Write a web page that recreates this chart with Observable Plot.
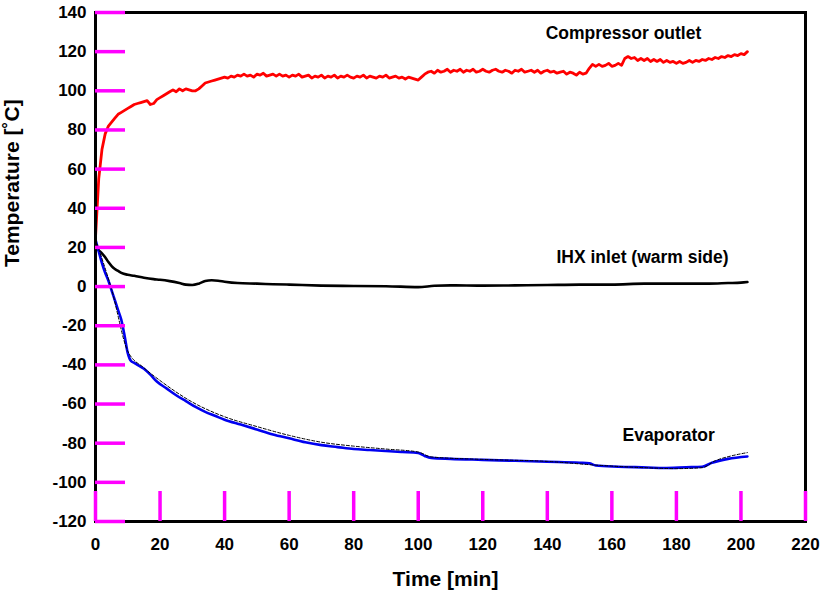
<!DOCTYPE html>
<html>
<head>
<meta charset="utf-8">
<script src="https://cdn.jsdelivr.net/npm/d3@7"></script>
<script src="https://cdn.jsdelivr.net/npm/@observablehq/plot@0.6"></script>
<style>
  html, body { margin: 0; padding: 0; background: #fff; }
  #chart svg { display: block; }
</style>
</head>
<body>
<div id="chart"></div>
<script>
// ---- data ----
const compTime = d3.range(0, 203); // minutes 0..202
const compTemp = [
  25, 55, 70, 78, 82, 84, 86, 88, 89, 90,
  91, 92, 93, 93.5, 94, 94.5, 95, 93, 93.5, 95.5,
  96.5, 97.5, 98.5, 99.5, 100.5, 99.5, 101, 100, 101, 100.5,
  100, 100, 101, 102.5, 104, 104.5, 105, 105.5, 106, 106.5,
  107, 106.5, 107.5, 107, 108, 107.5, 108.5, 107.5, 108, 107,
  108.5, 108, 109, 107.5, 108, 108.5, 107.5, 108.5, 107.5, 108,
  107, 108, 107.5, 108.5, 107, 107.5, 108, 106.5, 107.5, 107,
  108, 106.5, 107.5, 107, 108, 106.5, 107.5, 107, 108, 107,
  106.5, 107.5, 107, 108, 106.5, 107.5, 107, 106.5, 107.5, 107,
  108, 106.5, 107, 107.5, 106.5, 107, 106, 107, 106.5, 106,
  105.5, 107, 108.5, 109.5, 110, 109, 110.5, 109.5, 110, 111,
  109.5, 110.5, 110, 111, 109.5, 110.5, 110, 111, 109.5, 110,
  111, 110, 109.5, 110.5, 111, 110, 109.5, 110.5, 110, 109,
  110.5, 110, 111, 109.5, 110, 110.5, 109.5, 110.5, 109, 110,
  110.5, 109.5, 110, 109, 109.5, 110, 108.5, 109.5, 109, 108,
  109.5, 108.5, 109, 111.5, 113.5, 112.5, 113.5, 112.5, 113, 114,
  112.5, 113, 114, 113, 116.5, 117.5, 116.5, 117, 115.5, 116.5,
  115.5, 116.5, 115, 116, 115, 116, 114.5, 115.5, 114.5, 115,
  114, 115, 114, 114.5, 115.5, 114.5, 115.5, 115, 116, 115.5,
  116.5, 116, 117, 116.5, 117.5, 117, 118, 117.5, 118.5, 118,
  119, 118.5, 120
];

const ihxTime = [0, 1, 2, 3, 4, 5, 6, 7, 8, 10, 12, 15, 18, 20, 23, 26, 28, 30, 32, 34, 36, 38, 40, 44, 50, 55, 60, 70, 80, 90, 100, 105, 110, 120, 130, 140, 150, 160, 170, 180, 190, 196, 200, 202];
const ihxTemp = [20, 18.5, 17, 15, 12.5, 10.5, 9, 8, 7, 6, 5.5, 4.5, 3.8, 3.5, 2.8, 1.8, 1, 0.8, 1.5, 2.8, 3.2, 3, 2.5, 1.8, 1.5, 1.2, 1, 0.5, 0.3, 0.2, -0.3, 0.4, 0.6, 0.5, 0.6, 0.8, 1, 1, 1.5, 1.5, 1.5, 1.8, 2, 2.3];

const evapTime = [0, 1, 2, 3, 4, 5, 6, 7, 8, 9, 10, 11, 12, 13, 15, 17, 19, 22, 25, 28, 31, 34, 37, 40, 45, 50, 55, 60, 65, 70, 75, 80, 85, 90, 95, 100, 102, 104, 110, 120, 130, 140, 150, 153, 155, 162, 171, 176, 183, 188, 191, 196, 202];
const evapTemp = [24, 18, 12, 7, 3, -2, -7, -12, -17, -25, -34, -38, -39, -40, -42, -45, -48.5, -52, -55.5, -58.5, -61.5, -64, -66, -68, -70.5, -73, -75.5, -77.5, -79.5, -81, -82, -83, -83.5, -84, -84.5, -85, -86.5, -87.5, -88, -88.5, -89, -89.5, -90, -90.3, -91.4, -92, -92.4, -92.7, -92.3, -92, -90, -88, -86.8];

const evap2Time = [0, 5, 10, 15, 20, 30, 40, 50, 60, 70, 80, 90, 100, 104, 120, 140, 155, 170, 180, 188, 192, 197, 202];
const evap2Temp = [24, -1.5, -33, -41.5, -48, -59, -66.5, -71.5, -76, -79.5, -81.5, -83, -84.5, -87, -88.3, -89.3, -91.2, -92.5, -93, -92.5, -89, -86.5, -84.8];

const labelNames = ["Compressor outlet", "IHX inlet (warm side)", "Evaporator"];
const labelX = [163.6, 169.5, 177.6];
const labelY = [129.3, 14.9, -76];

const xTicks = d3.range(0, 221, 20);
const yTicks = d3.range(-120, 141, 20);

const xTitle = "Time [min]";
const yTitle = "Temperature [\u02DAC]";

// ---- tables ----
const comp = compTime.map((t, i) => ({t, v: compTemp[i]}));
const ihx = ihxTime.map((t, i) => ({t, v: ihxTemp[i]}));
const evap = evapTime.map((t, i) => ({t, v: evapTemp[i]}));
const evap2 = evap2Time.map((t, i) => ({t, v: evap2Temp[i]}));
const labels = labelNames.map((name, i) => ({name, x: labelX[i], y: labelY[i]}));

const W = 832, H = 605;
const mL = 95, mR = 27, mT = 12, mB = 84;
const xDom = [0, 220], yDom = [-120, 140];
const tickLen = 30;

const chart = Plot.plot({
  width: W,
  height: H,
  marginLeft: mL,
  marginRight: mR,
  marginTop: mT,
  marginBottom: mB,
  style: {fontFamily: "Arial, 'Liberation Sans', sans-serif", background: "#fff", color: "#000"},
  x: {domain: xDom, ticks: xTicks},
  y: {domain: yDom, ticks: yTicks},
  marks: [
    Plot.line(comp, {x: "t", y: "v", stroke: "#ff0000", strokeWidth: 2.8, curve: "linear"}),
    Plot.line(ihx, {x: "t", y: "v", stroke: "#000", strokeWidth: 2.6, curve: "monotone-x"}),
    Plot.line(evap, {x: "t", y: "v", stroke: "#0000f0", strokeWidth: 2.6, curve: "monotone-x"}),
    Plot.line(evap2, {x: "t", y: "v", stroke: "#000", strokeWidth: 1, strokeDasharray: "3,2", curve: "monotone-x"}),
    Plot.axisY(yTicks, {anchor: "left", tickSize: 0, tickPadding: 9, fontSize: 17, fontWeight: "bold", label: null, tickFormat: d => String(d)}),
    Plot.axisX(xTicks, {anchor: "bottom", tickSize: 0, tickPadding: 16, fontSize: 17, fontWeight: "bold", label: null, tickFormat: d => String(d)}),
    Plot.frame({stroke: "#000", strokeWidth: 3}),
    Plot.text(labels, {x: "x", y: "y", text: "name", fontSize: 17.5, fontWeight: "bold", fill: "#000", textAnchor: "middle"}),
    Plot.text([yTitle], {text: d => d, frameAnchor: "left", dx: -83, rotate: -90, fontSize: 21, fontWeight: "bold", fill: "#000"}),
    Plot.text([xTitle], {text: d => d, frameAnchor: "bottom", dy: 64, dx: -5, fontSize: 21, fontWeight: "bold", fill: "#000"}),
    Plot.axisY(yTicks, {anchor: "left", tickSize: -tickLen, stroke: "magenta", strokeWidth: 3.5, tickFormat: () => "", label: null}),
    Plot.axisX(xTicks, {anchor: "bottom", tickSize: -tickLen, stroke: "magenta", strokeWidth: 3.5, tickFormat: () => "", label: null})
  ]
});
document.getElementById("chart").appendChild(chart);
</script>
</body>
</html>
